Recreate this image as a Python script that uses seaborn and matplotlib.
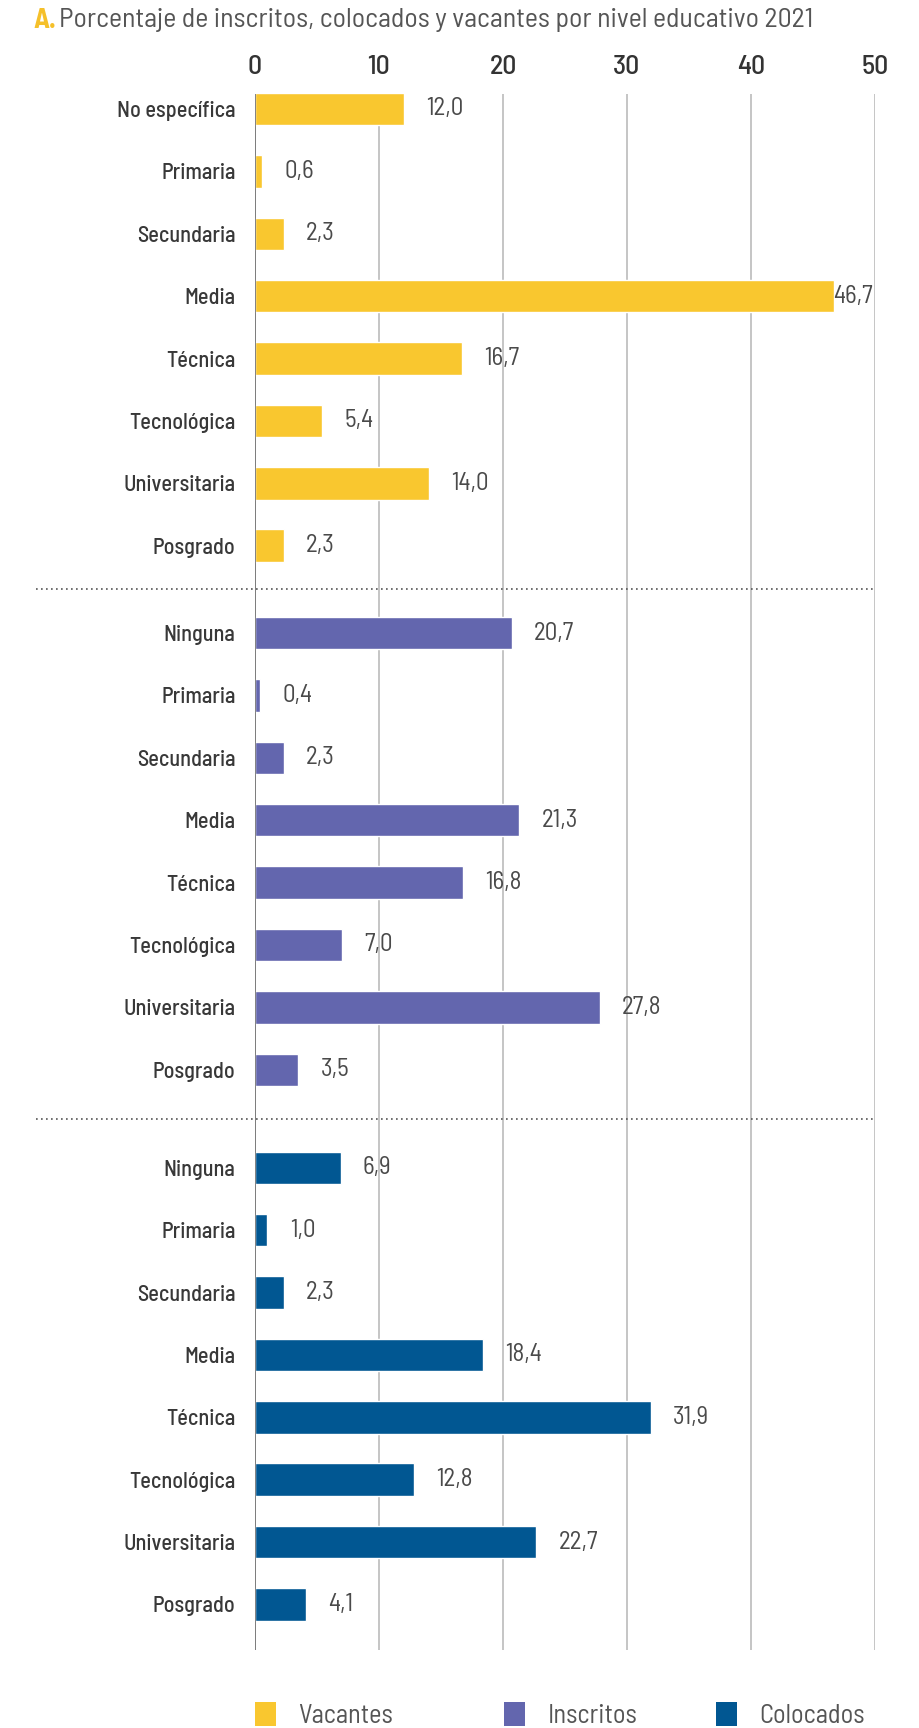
import matplotlib
matplotlib.use("Agg")
import matplotlib.pyplot as plt
from matplotlib.patches import Patch
import seaborn as sns
import pandas as pd

# ---- data ----
grupos = ["Vacantes", "Inscritos", "Colocados"]
niveles_vacantes = ["No específica", "Primaria", "Secundaria", "Media", "Técnica",
                    "Tecnológica", "Universitaria", "Posgrado"]
niveles_inscritos = ["Ninguna", "Primaria", "Secundaria", "Media", "Técnica",
                     "Tecnológica", "Universitaria", "Posgrado"]
niveles_colocados = ["Ninguna", "Primaria", "Secundaria", "Media", "Técnica",
                     "Tecnológica", "Universitaria", "Posgrado"]
vacantes = [12.0, 0.6, 2.3, 46.7, 16.7, 5.4, 14.0, 2.3]
inscritos = [20.7, 0.4, 2.3, 21.3, 16.8, 7.0, 27.8, 3.5]
colocados = [6.9, 1.0, 2.3, 18.4, 31.9, 12.8, 22.7, 4.1]
xticks = [0, 10, 20, 30, 40, 50]
titulo_a = "A."
titulo = "Porcentaje de inscritos, colocados y vacantes por nivel educativo 2021"

colores = {"Vacantes": "#F9C72F", "Inscritos": "#6366AE", "Colocados": "#015792"}

# ---- layout of rows (group gaps) ----
group_offsets = [0.0, 8.4, 16.97]
niveles = [niveles_vacantes, niveles_inscritos, niveles_colocados]
valores = [vacantes, inscritos, colocados]

rows = []
for g, (grp, labs, vals, off) in enumerate(zip(grupos, niveles, valores, group_offsets)):
    for i, (lab, v) in enumerate(zip(labs, vals)):
        rows.append({"grupo": grp, "nivel": lab, "valor": v, "pos": off + i})
df = pd.DataFrame(rows)

sns.set_theme(style="white")
FAM = ["Barlow Semi Condensed", "DejaVu Sans"]
plt.rcParams["font.family"] = FAM

fig = plt.figure(figsize=(9.19, 17.28), dpi=100)
ax = fig.add_axes([255 / 919, 1 - 1650 / 1728, 620 / 919, (1650 - 94) / 1728])

for grp in grupos:
    sub = df[df["grupo"] == grp]
    sns.barplot(data=sub, x="valor", y="pos", orient="h", native_scale=True,
                color=colores[grp], saturation=1, width=0.52, ax=ax, zorder=3)

ax.set_xlim(0, 50)
ax.set_ylim(24.7, -0.24)
ax.set_xlabel("")
ax.set_ylabel("")
ax.xaxis.tick_top()
ax.set_xticks(xticks)
ax.set_xticklabels([str(t) for t in xticks], fontsize=20, color="#333333",
                   fontweight="medium")
ax.tick_params(axis="x", length=0, pad=11)
ax.set_yticks(df["pos"].tolist())
ax.set_yticklabels(df["nivel"].tolist(), fontsize=16, color="#383838",
                   fontweight="medium")
ax.tick_params(axis="y", length=0, pad=14)
for s in ax.spines.values():
    s.set_visible(False)
ax.grid(axis="x", color="#b5b5b5", lw=1.1, zorder=0)
ax.grid(axis="y", visible=False)
ax.axvline(0, color="#777777", lw=1.3, zorder=4)

# value labels (kept inside the 0-50 frame)
for _, r in df.iterrows():
    xl = min(r["valor"] + 1.8, 46.6)
    ax.text(xl, r["pos"], f"{r['valor']:.1f}".replace(".", ","),
            va="center", ha="left", fontsize=18, color="#4a4a4a", clip_on=False)

# dotted separators
for g in range(1, 3):
    ysep = (group_offsets[g - 1] + 7 + group_offsets[g]) / 2
    ax.axhline(ysep, xmin=-0.353, xmax=1.0, clip_on=False, color="#555555",
               lw=1.2, ls=(0, (1, 2)), zorder=5)

# title
t1 = fig.text(33 / 919, 1 - 20 / 1728, titulo_a, fontsize=20, color="#F5C02A",
              fontweight="bold", va="center", ha="left")
ax.annotate(titulo, xy=(1, 0.5), xycoords=t1, xytext=(2, 0),
            textcoords="offset points", va="center", ha="left",
            fontsize=20, color="#555555", annotation_clip=False)

# legend (three entries at fixed positions)
leg_x = [255, 504, 716]
for grp, lx in zip(grupos, leg_x):
    lg = fig.legend(handles=[Patch(facecolor=colores[grp], edgecolor="none")],
                    labels=[grp], loc="upper left",
                    bbox_to_anchor=(lx / 919, 1 - 1702 / 1728),
                    frameon=False, handlelength=0.8, handleheight=1.0,
                    handletextpad=0.85, borderpad=0, borderaxespad=0,
                    prop={"family": FAM, "size": 19, "weight": "normal"},
                    labelcolor="#555555")

fig.savefig("out.png", dpi=100)
